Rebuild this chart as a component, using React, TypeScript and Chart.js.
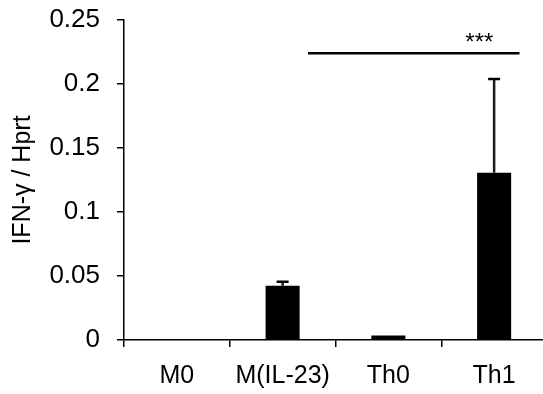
import React, { useEffect, useRef } from "react";
import { Chart, registerables } from "chart.js";

Chart.register(...registerables);

const categories = ["M0", "M(IL-23)", "Th0", "Th1"];
const means = [0, 0.0424, 0.0035, 0.1307];
const errors = [0, 0.0031, 0, 0.0732];
const yTicks = [0, 0.05, 0.1, 0.15, 0.2, 0.25];
const yTickLabels = ["0", "0.05", "0.1", "0.15", "0.2", "0.25"];
const yTitle = "IFN-γ / Hprt";
// significance bracket (category index space, value space)
const sigFrom = 1.24;
const sigTo = 3.24;
const sigValue = 0.224;
const sigLabel = "***";
const sigLabelIndex = 2.86;

const FONT = "Arial, 'Liberation Sans', sans-serif";

const annotationPlugin = {
  id: "errAndSig",
  afterDatasetsDraw(chart: any) {
    const ctx = chart.ctx;
    const x = chart.scales.x;
    const y = chart.scales.y;
    ctx.save();
    // error bars (upward only)
    means.forEach((m, i) => {
      const e = errors[i];
      if (!e) return;
      const px = x.getPixelForValue(i);
      const top = y.getPixelForValue(m + e);
      const base = y.getPixelForValue(m);
      ctx.strokeStyle = "#1a1a1a";
      ctx.lineWidth = 2.5;
      ctx.beginPath();
      ctx.moveTo(px, base);
      ctx.lineTo(px, top);
      ctx.stroke();
      ctx.strokeStyle = "#000";
      ctx.lineWidth = 2.5;
      ctx.beginPath();
      ctx.moveTo(px - 6, top);
      ctx.lineTo(px + 6, top);
      ctx.stroke();
    });
    // significance line
    const sy = y.getPixelForValue(sigValue);
    ctx.strokeStyle = "#000";
    ctx.lineWidth = 2.5;
    ctx.beginPath();
    ctx.moveTo(x.getPixelForValue(sigFrom), sy);
    ctx.lineTo(x.getPixelForValue(sigTo), sy);
    ctx.stroke();
    ctx.fillStyle = "#000";
    ctx.font = "24px " + FONT;
    ctx.textAlign = "center";
    ctx.textBaseline = "alphabetic";
    ctx.fillText(sigLabel, x.getPixelForValue(sigLabelIndex), sy - 3);
    ctx.restore();
  },
};

export default function App() {
  const ref = useRef<HTMLCanvasElement>(null);
  useEffect(() => {
    if (!ref.current) return;
    const chart = new Chart(ref.current, {
      type: "bar",
      data: {
        labels: categories,
        datasets: [
          {
            data: means,
            backgroundColor: "#000",
            borderColor: "#000",
            borderWidth: 0,
            categoryPercentage: 1,
            barPercentage: 0.322,
          },
        ],
      },
      options: {
        responsive: false,
        animation: false,
        devicePixelRatio: 1,
        layout: { padding: { top: 20, left: 0, right: 0, bottom: 0 } },
        plugins: { legend: { display: false }, tooltip: { enabled: false } },
        scales: {
          x: {
            offset: true,
            grid: {
              offset: true,
              drawOnChartArea: false,
              drawTicks: true,
              tickLength: 7,
              color: "#000",
              lineWidth: 1.5,
            },
            border: { display: true, color: "#000", width: 1.5 },
            ticks: {
              color: "#000",
              font: { family: FONT, size: 25 },
              padding: 14,
              maxRotation: 0,
              autoSkip: false,
            },
            afterFit: (s: any) => {
              s.height = 54;
              s.paddingLeft = 0;
              s.paddingRight = 0;
            },
          },
          y: {
            min: 0,
            max: 0.25,
            afterBuildTicks: (s: any) => {
              s.ticks = yTicks.map((v) => ({ value: v }));
            },
            grid: {
              drawOnChartArea: false,
              drawTicks: true,
              tickLength: 7,
              color: "#000",
              lineWidth: 1.5,
            },
            border: { display: true, color: "#000", width: 1.5 },
            ticks: {
              color: "#000",
              font: { family: FONT, size: 26 },
              padding: 17,
              callback: (_v: any, i: number) => yTickLabels[i],
            },
            title: {
              display: true,
              text: yTitle,
              color: "#000",
              font: { family: FONT, size: 25 },
              padding: { top: 8, bottom: 0 },
            },
            afterFit: (s: any) => {
              s.width = 124;
              s.paddingTop = 0;
              s.paddingBottom = 0;
            },
          },
        },
      },
      plugins: [annotationPlugin],
    });
    return () => chart.destroy();
  }, []);
  return (
    <div
      style={{
        position: "fixed",
        left: 0,
        top: 0,
        width: 543,
        height: 394,
        overflow: "hidden",
        background: "#fff",
      }}
    >
      <canvas ref={ref} width={547} height={394} style={{ display: "block" }} />
    </div>
  );
}
